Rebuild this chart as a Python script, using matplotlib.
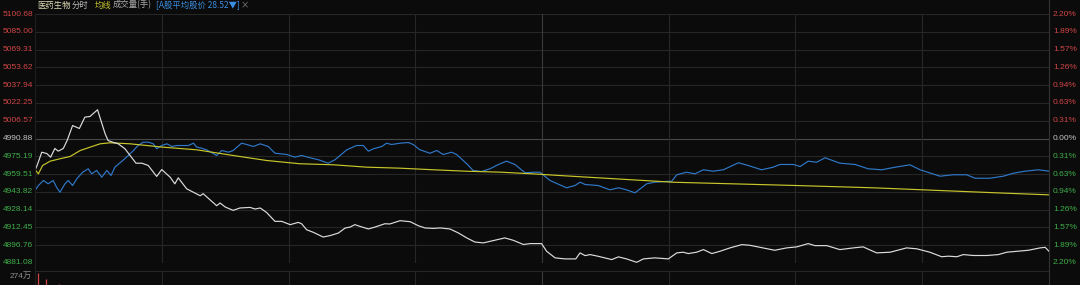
import matplotlib
matplotlib.use("Agg")
import matplotlib.pyplot as plt
from matplotlib.lines import Line2D
from matplotlib.transforms import offset_copy
import numpy as np

plt.rcParams['font.family'] = ['Liberation Sans', 'Noto Sans CJK SC', 'DejaVu Sans']

prev_close = 4990.88

# index (white) - minute, price
idx_min = [0, 0.5, 1.6, 2.8, 3.7, 4.7, 5.5, 6.7, 7.6, 8.9, 10.5, 11.8, 13.0, 13.8, 14.8, 15.6,
           16.6, 17.3, 18.4, 19.7, 21.3, 22.5, 23.9, 25.3, 26.8, 28.8, 30.0, 32.0, 33.1, 33.9,
           35.9, 37.5, 39.1, 39.8, 41.4, 43.0, 43.8, 45.0, 46.9, 48.5, 50.9, 52.1, 53.3, 54.8,
           56.8, 58.4, 60.4, 62.3, 63.1, 64.3, 65.9, 68.2, 69.8, 71.8, 73.4, 74.6, 75.7, 76.9,
           78.9, 80.5, 82.8, 84.0, 86.4, 88.8, 90.7, 92.3, 94.3, 95.9, 98.2, 100.2, 102.2, 104.1,
           106.1, 107.7, 109.3, 111.2, 113.2, 115.6, 117.2, 119.9, 121.1, 123.1, 125.4, 128.0,
           129.0, 130.2, 131.4, 133.3, 136.5, 138.1, 140.0, 142.4, 144.0, 146.7, 149.9, 151.9,
           153.4, 154.6, 156.6, 158.2, 160.2, 162.1, 164.5, 167.3, 169.2, 171.6, 175.1, 177.9,
           180.3, 183.0, 184.6, 187.4, 190.5, 193.7, 196.0, 199.2, 202.4, 206.3, 208.7, 211.8,
           214.6, 216.2, 218.2, 219.7, 222.1, 225.3, 228.0, 230.0, 232.4, 235.1, 237.9, 239.1, 240]
idx_price = [4962.7, 4967.1, 4978.8, 4977.6, 4974.4, 4982.1, 4979.7, 4982.1, 4989.1, 5002.3,
             4999.7, 5009.7, 5010.3, 5012.9, 5016.2, 5006.8, 4995.0, 4989.1, 4987.6, 4986.2,
             4981.8, 4975.9, 4969.1, 4969.1, 4967.1, 4957.4, 4963.5, 4956.7, 4950.9, 4956.2,
             4946.5, 4943.5, 4940.4, 4942.2, 4936.9, 4931.6, 4934.0, 4930.5, 4927.5, 4929.6,
             4930.1, 4928.7, 4929.6, 4925.7, 4917.8, 4917.8, 4914.9, 4916.9, 4915.7, 4910.4,
             4908.1, 4904.0, 4905.2, 4907.5, 4911.9, 4912.8, 4914.9, 4913.4, 4911.1, 4912.8,
             4915.7, 4915.5, 4918.4, 4917.5, 4914.0, 4912.0, 4911.6, 4912.0, 4911.1, 4907.6,
             4903.2, 4899.6, 4898.8, 4900.2, 4901.7, 4903.2, 4901.1, 4897.4, 4898.2, 4898.2,
             4891.4, 4885.6, 4884.7, 4884.7, 4890.0, 4887.6, 4888.5, 4887.0, 4884.1, 4886.5,
             4884.7, 4881.7, 4884.7, 4885.6, 4884.7, 4890.0, 4890.6, 4889.4, 4890.6, 4892.9,
             4889.4, 4891.4, 4894.4, 4897.3, 4896.7, 4894.9, 4892.3, 4894.4, 4895.3, 4898.2,
             4896.4, 4896.4, 4892.9, 4894.4, 4895.3, 4890.0, 4890.6, 4894.4, 4893.6, 4890.6,
             4886.6, 4887.1, 4886.6, 4888.5, 4887.7, 4887.7, 4888.5, 4890.6, 4891.4, 4892.3,
             4894.4, 4894.9, 4891.4]

# average line (yellow)
avg_min = [0, 0.8, 1.8, 3.6, 5.9, 8.3, 10.7, 13.0, 15.4, 17.8, 22.5, 30.4, 38.3, 46.9, 54.8,
           62.7, 70.6, 78.5, 86.4, 94.3, 102.2, 110.1, 117.9, 124.3, 151.1, 180.3, 198.4,
           214.2, 230.0, 240]
avg_price = [4963.5, 4959.7, 4967.1, 4970.9, 4973.0, 4975.0, 4980.3, 4983.2, 4986.2, 4987.1,
             4986.2, 4983.2, 4980.9, 4975.9, 4971.5, 4968.6, 4967.7, 4965.6, 4964.7, 4963.3,
             4962.0, 4961.2, 4959.7, 4958.2, 4952.3, 4949.4, 4947.4, 4945.0, 4942.6, 4941.2]

# A股平均股价 (blue), % change
ash_min = [0, 0.8, 2.0, 3.1, 4.3, 5.1, 5.9, 7.1, 7.9, 8.9, 9.9, 11.3, 12.6, 13.4, 14.6, 15.8,
           17.0, 18.0, 18.9, 20.5, 22.1, 23.3, 24.4, 25.6, 26.8, 28.0, 28.8, 30.0, 31.2, 32.4,
           33.5, 35.1, 36.3, 37.5, 38.3, 39.1, 40.6, 43.0, 44.2, 45.8, 46.9, 48.9, 50.1, 51.7,
           53.3, 55.2, 56.8, 58.0, 59.6, 61.5, 63.1, 65.1, 67.1, 69.4, 71.0, 73.8, 76.1, 77.7,
           78.9, 80.1, 82.1, 83.2, 84.4, 86.4, 88.4, 89.5, 91.1, 93.5, 95.1, 96.6, 98.6, 99.8,
           102.2, 103.7, 105.7, 107.7, 109.7, 111.6, 113.6, 116.0, 117.9, 119.5, 121.9, 125.8,
           127.8, 129.0, 130.2, 133.3, 136.1, 138.1, 140.0, 142.0, 144.8, 146.7, 149.1, 150.7,
           151.9, 154.2, 156.2, 158.2, 160.5, 162.9, 166.5, 168.8, 172.0, 174.7, 176.3, 179.5,
           181.1, 183.0, 185.0, 187.0, 190.5, 194.1, 197.2, 200.4, 203.6, 207.1, 209.5, 214.2,
           217.3, 220.5, 222.5, 226.0, 229.2, 231.6, 234.3, 237.5, 240]
ash_pct = [-0.919, -0.831, -0.742, -0.800, -0.742, -0.861, -0.949, -0.800, -0.742, -0.831,
           -0.712, -0.595, -0.535, -0.624, -0.565, -0.684, -0.565, -0.654, -0.507, -0.406,
           -0.300, -0.212, -0.124, -0.065, -0.065, -0.094, -0.182, -0.124, -0.094, -0.141,
           -0.124, -0.124, -0.124, -0.083, -0.154, -0.164, -0.200, -0.300, -0.212, -0.242,
           -0.212, -0.083, -0.106, -0.141, -0.094, -0.141, -0.260, -0.270, -0.283, -0.330,
           -0.300, -0.341, -0.376, -0.436, -0.376, -0.200, -0.124, -0.124, -0.224, -0.182,
           -0.141, -0.083, -0.106, -0.083, -0.071, -0.106, -0.200, -0.260, -0.212, -0.283,
           -0.242, -0.283, -0.447, -0.565, -0.583, -0.535, -0.459, -0.401, -0.459, -0.606,
           -0.596, -0.596, -0.742, -0.871, -0.831, -0.772, -0.813, -0.831, -0.907, -0.871,
           -0.907, -0.960, -0.800, -0.772, -0.760, -0.755, -0.641, -0.596, -0.624, -0.553,
           -0.578, -0.553, -0.429, -0.477, -0.553, -0.507, -0.459, -0.459, -0.495, -0.401,
           -0.419, -0.341, -0.436, -0.459, -0.535, -0.553, -0.507, -0.465, -0.553, -0.666,
           -0.641, -0.641, -0.702, -0.702, -0.666, -0.613, -0.578, -0.553, -0.578]

# volume (万手), first minutes only visible
vol_min = [0, 1, 2, 3, 4, 5, 6]
vol_val = [274, 205, 249, 212, 198, 229, 180]

left_labels = ['4881.08', '4896.76', '4912.45', '4928.14', '4943.82', '4959.51', '4975.19',
               '4990.88', '5006.57', '5022.25', '5037.94', '5053.62', '5069.31', '5085.00',
               '5100.68']
right_labels = ['2.20%', '1.89%', '1.57%', '1.26%', '0.94%', '0.63%', '0.31%', '0.00%',
                '0.31%', '0.63%', '0.94%', '1.26%', '1.57%', '1.89%', '2.20%']

BG = '#0b0b0b'
GRID = '#262626'
RED = '#d04545'
GREEN = '#3fae49'
NEUTRAL = '#c4c4c4'

W, H = 1080, 285
fig = plt.figure(figsize=(W / 100, H / 100), dpi=100, facecolor=BG)

x0, x1 = 35, 1049
ytop, ybot = 14, 263
ax = fig.add_axes([x0 / W, (H - ybot) / H, (x1 - x0) / W, (ybot - ytop) / H], facecolor=BG)
ymin = float(left_labels[0])
ymax = float(left_labels[-1])
ax.set_xlim(0, 240)
ax.set_ylim(ymin, ymax)
for s in ax.spines.values():
    s.set_visible(False)
ax.set_xticks([])
ax.set_yticks([])

ytrans = ax.get_yaxis_transform()
left_tr = offset_copy(ytrans, fig=fig, x=-2, y=0, units='dots')
right_tr = offset_copy(ytrans, fig=fig, x=4, y=0, units='dots')
ticks = np.linspace(ymin, ymax, len(left_labels))
for i, t in enumerate(ticks):
    c = '#484848' if i == 7 else GRID
    ax.axhline(t, color=c, lw=0.8, zorder=1)
    col = RED if i > 7 else (GREEN if i < 7 else NEUTRAL)
    ax.text(0, t, left_labels[i], transform=left_tr, ha='right',
            va='center', fontsize=6.0, color=col)
    ax.text(1, t, right_labels[i], transform=right_tr, ha='left',
            va='center', fontsize=6.0, color=col)

for m in range(30, 240, 30):
    ax.axvline(m, color='#3a3a3a' if m == 120 else GRID, lw=0.8, zorder=1)

ash_price = [prev_close * (1 + p / 100) for p in ash_pct]
ax.plot(ash_min, ash_price, color='#2f78c8', lw=0.85, zorder=3)
ax.plot(avg_min, avg_price, color='#c8c62a', lw=0.85, zorder=4)
ax.plot(idx_min, idx_price, color='#dcdcdc', lw=0.85, zorder=5)

# volume pane (only the top strip is in view)
vtop, vbot = 271, 340
vax = fig.add_axes([x0 / W, (H - vbot) / H, (x1 - x0) / W, (vbot - vtop) / H], facecolor=BG)
vax.set_xlim(0, 240)
vax.set_ylim(0, 282)
for k, s in vax.spines.items():
    s.set_visible(k == 'top')
vax.spines['top'].set_color(GRID)
vax.spines['top'].set_linewidth(0.8)
vax.set_xticks([])
vax.set_yticks([])
for m in range(30, 240, 30):
    vax.axvline(m, color='#3a3a3a' if m == 120 else GRID, lw=0.8)
vax.vlines(np.array(vol_min) + 0.6, 0, vol_val, color=RED, lw=0.9)
fig.text(32 / W, (H - 276) / H, '274万', ha='right', va='center', fontsize=6.0,
         color='#8c8c8c', family=['Liberation Sans', 'Noto Sans CJK SC'])

# borders
fig.add_artist(Line2D([x1 / W, x1 / W], [0, 1], color='#333333', lw=0.8))
fig.add_artist(Line2D([x0 / W, x0 / W], [0, (H - ytop) / H], color='#1e1e1e', lw=0.8))

# header
hy = (H - 5) / H
cjk = ['Noto Sans CJK SC', 'DejaVu Sans']
fig.text(37 / W, hy, '医药生物', fontsize=6, color='#dedbb6', va='center', family=cjk)
fig.text(72 / W, hy, '分时', fontsize=6, color='#bdbdbd', va='center', family=cjk)
fig.text(95 / W, hy, '均线', fontsize=6, color='#c8c62a', va='center', family=cjk)
fig.text(113 / W, hy, '成交量(手)', fontsize=6, color='#a8a8a8', va='center', family=cjk)
fig.text(156 / W, hy, '[A股平均股价 28.52▼]', fontsize=6, color='#3a8ee0', va='center',
         family=['Noto Sans CJK SC', 'DejaVu Sans'])
fig.text(241 / W, hy, '×', fontsize=6, color='#8c8c8c', va='center', family=cjk)

fig.savefig('out.png', dpi=100, facecolor=BG)
